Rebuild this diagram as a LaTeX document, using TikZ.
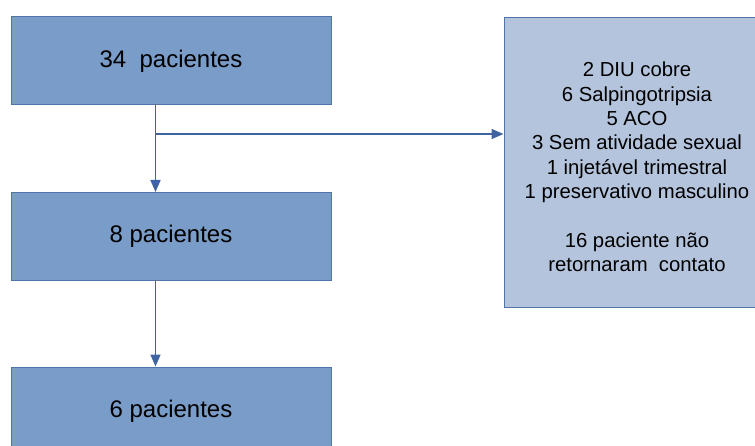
\documentclass[tikz,border=0pt]{standalone}
\usepackage{fontspec}
\setmainfont{Liberation Sans}
\usetikzlibrary{arrows.meta,calc}
\definecolor{boxfill}{HTML}{7A9CC8}
\definecolor{boxline}{HTML}{4F74AA}
\definecolor{sidefill}{HTML}{B4C4DC}
\definecolor{arrcol}{HTML}{3F64A0}
\begin{document}
\begin{tikzpicture}[x=1pt,y=-1pt,
  mainbox/.style={draw=boxline,fill=boxfill,line width=1pt,minimum width=320pt,minimum height=88pt,inner sep=0pt,font=\fontsize{24}{28}\selectfont},
  sidebox/.style={draw=boxline,fill=sidefill,line width=1pt,minimum width=266pt,minimum height=290pt,inner sep=0pt},
  sidetxt/.style={align=center,inner sep=0pt,font=\fontsize{20.3}{24.4}\selectfont},
  arr/.style={draw=arrcol,line width=1.6pt,-{Triangle[length=12pt,width=10pt]}}]
\useasboundingbox (0,0) rectangle (755,446);
\clip (0,0) rectangle (755,446);
\node[mainbox] (b1) at (171,61) {34\ \ pacientes};
\node[mainbox] (b2) at (171,236.5) {8 pacientes};
\node[mainbox] (b3) at (171,411) {6 pacientes};
\node[sidebox] (side) at (637,163) {};
\node[sidetxt] (sidetext) at (637,167) {2 DIU cobre\\6 Salpingotripsia\\5 ACO\\3 Sem atividade sexual\\1 injetável trimestral\\1 preservativo masculino\\[24.4pt]16 paciente não\\retornaram\ \ contato};
\coordinate (j) at (156,134);
\draw[arr] ([xshift=145pt]b1.south west) -- ([xshift=145pt]b2.north west);
\draw[arr] (j) -- (j -| side.west);
\draw[arr] ([xshift=145pt]b2.south west) -- ([xshift=145pt]b3.north west);
\end{tikzpicture}
\end{document}
